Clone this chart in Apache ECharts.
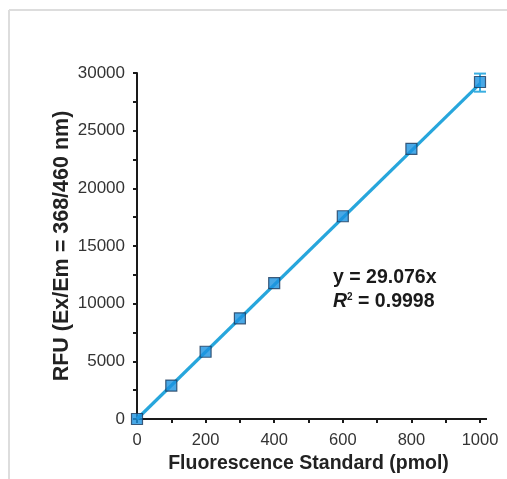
<!DOCTYPE html>
<html>
<head>
<meta charset="utf-8">
<script src="https://cdn.jsdelivr.net/npm/echarts@6/dist/echarts.min.js"></script>
<style>
html,body{margin:0;padding:0;background:#fff;}
#chart{width:507px;height:479px;}
</style>
</head>
<body>
<div id="chart"></div>
<script>
// Data
var standardPmol = [0, 100, 200, 300, 400, 600, 800, 1000];
var rfuValues = [0, 2900, 5830, 8730, 11780, 17580, 23420, 29220];
var errLow = [0, 0, 0, 0, 0, 0, 0, 28380];
var errHigh = [0, 0, 0, 0, 0, 0, 0, 29950];
var fitX = [0, 1000];
var fitY = [0, 29076];
var eqText = 'y = 29.076x';
var r2Text = '0.9998';
var xTitle = 'Fluorescence Standard (pmol)';
var yTitle = 'RFU (Ex/Em = 368/460 nm)';

var font = '"Liberation Sans", Arial, sans-serif';
var chart = echarts.init(document.getElementById('chart'));

var pts = standardPmol.map(function (x, i) { return [x, rfuValues[i]]; });
var fitPts = fitX.map(function (x, i) { return [x, fitY[i]]; });
var errPts = [];
standardPmol.forEach(function (x, i) {
  if (errHigh[i] > errLow[i]) errPts.push([x, errLow[i], errHigh[i]]);
});

chart.setOption({
  animation: false,
  backgroundColor: '#fff',
  grid: { left: 137, right: 27, top: 73, bottom: 59, containLabel: false },
  xAxis: {
    type: 'value', min: 0, max: 1000, interval: 100,
    name: xTitle, nameLocation: 'middle', nameGap: 35, nameMoveOverlap: false,
    nameTextStyle: { fontFamily: font, fontWeight: 'bold', fontSize: 19.5, color: '#222' },
    axisLine: { onZero: false, lineStyle: { color: '#1a1a1a', width: 2 } },
    axisTick: { show: true, length: 4, lineStyle: { color: '#1a1a1a', width: 2 } },
    axisLabel: {
      fontFamily: font, fontSize: 16.5, color: '#333', margin: 13,
      formatter: function (v) { return v % 200 === 0 ? String(v) : ''; }
    },
    splitLine: { show: false }
  },
  yAxis: {
    type: 'value', min: 0, max: 30000, interval: 2500,
    name: yTitle, nameLocation: 'middle', nameGap: 64, nameRotate: 90, nameMoveOverlap: false,
    nameTextStyle: { fontFamily: font, fontWeight: 'bold', fontSize: 21.5, color: '#222' },
    axisLine: { show: true, lineStyle: { color: '#1a1a1a', width: 2 } },
    axisTick: { show: true, length: 4, lineStyle: { color: '#1a1a1a', width: 2 } },
    axisLabel: {
      fontFamily: font, fontSize: 17, color: '#333', margin: 12,
      formatter: function (v) { return v % 5000 === 0 ? String(v) : ''; }
    },
    splitLine: { show: false }
  },
  series: [
    {
      type: 'line', data: fitPts, symbol: 'none', z: 2,
      lineStyle: { color: '#27a6dc', width: 3.2 }
    },
    {
      type: 'custom', data: errPts, z: 3,
      renderItem: function (params, api) {
        var x = api.value(0);
        var lo = api.coord([x, api.value(1)]);
        var hi = api.coord([x, api.value(2)]);
        var w = 6;
        var st = { stroke: '#3aaee0', lineWidth: 2 };
        return {
          type: 'group', children: [
            { type: 'line', shape: { x1: lo[0], y1: lo[1], x2: hi[0], y2: hi[1] }, style: st },
            { type: 'line', shape: { x1: lo[0] - w, y1: lo[1], x2: lo[0] + w, y2: lo[1] }, style: st },
            { type: 'line', shape: { x1: hi[0] - w, y1: hi[1], x2: hi[0] + w, y2: hi[1] }, style: st }
          ]
        };
      }
    },
    {
      type: 'scatter', data: pts, symbol: 'rect', symbolSize: 11, z: 4,
      itemStyle: { color: '#1b92e0', borderColor: '#1c3a5c', borderWidth: 1.2 }
    }
  ],
  graphic: [
    { type: 'line', shape: { x1: 9, y1: 10, x2: 507, y2: 10 }, style: { stroke: '#dddddd', lineWidth: 2 } },
    { type: 'line', shape: { x1: 9, y1: 10, x2: 9, y2: 479 }, style: { stroke: '#dddddd', lineWidth: 2 } },
    {
      type: 'text', left: 333, top: 268,
      style: { text: eqText, fontFamily: font, fontWeight: 'bold', fontSize: 19.5, fill: '#1a1a1a' }
    },
    {
      type: 'text', left: 333, top: 292,
      style: {
        text: '{i|R}{s|2}{n| = ' + r2Text + '}',
        rich: {
          i: { fontFamily: font, fontWeight: 'bold', fontStyle: 'italic', fontSize: 19.5, fill: '#1a1a1a' },
          s: { fontFamily: font, fontWeight: 'bold', fontSize: 10, fill: '#1a1a1a', verticalAlign: 'top', padding: [0, 0, 8, 0] },
          n: { fontFamily: font, fontWeight: 'bold', fontSize: 19.5, fill: '#1a1a1a' }
        }
      }
    }
  ]
});

// small extension of the x axis line past 1000, as in the reference
var end = chart.convertToPixel({ gridIndex: 0 }, [1000, 0]);
chart.setOption({
  graphic: [
    {}, {}, {}, {},
    { type: 'line', shape: { x1: end[0], y1: end[1], x2: end[0] + 7, y2: end[1] }, style: { stroke: '#1a1a1a', lineWidth: 2 } }
  ]
});
</script>
</body>
</html>
